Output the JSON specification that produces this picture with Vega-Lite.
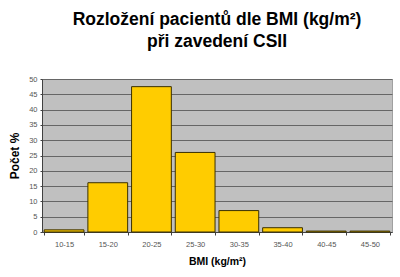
{
  "$schema": "https://vega.github.io/schema/vega-lite/v6.json",
  "autosize": "none",
  "width": 350,
  "height": 153,
  "padding": {"left": 42, "top": 79, "right": 8, "bottom": 45},
  "background": "white",
  "config": {
    "font": "Liberation Sans",
    "view": {"fill": "#C0C0C0", "stroke": "#A0A0A0", "strokeWidth": 1}
  },
  "title": {
    "text": ["Rozložení pacientů dle BMI (kg/m²)", "při zavedení CSII"],
    "font": "Liberation Sans",
    "fontSize": 17.5,
    "fontWeight": "bold",
    "color": "#000000",
    "lineHeight": 22,
    "anchor": "middle",
    "offset": 25
  },
  "data": {
    "values": [
      {"bmi": "10-15", "pct": 0.7},
      {"bmi": "15-20", "pct": 16.1},
      {"bmi": "20-25", "pct": 47.5},
      {"bmi": "25-30", "pct": 26.0},
      {"bmi": "30-35", "pct": 7.0},
      {"bmi": "35-40", "pct": 1.4},
      {"bmi": "40-45", "pct": 0.3},
      {"bmi": "45-50", "pct": 0.3}
    ]
  },
  "mark": {"type": "bar", "fill": "#FFCC00", "stroke": "#3A3000", "strokeWidth": 1},
  "encoding": {
    "x": {
      "field": "bmi",
      "type": "ordinal",
      "sort": null,
      "scale": {"paddingInner": 0.09, "paddingOuter": 0.05},
      "axis": {
        "title": "BMI (kg/m²)",
        "titleFont": "Liberation Sans",
        "titleFontSize": 10.5,
        "titleFontWeight": "bold",
        "titleColor": "#000000",
        "titlePadding": 9,
        "labelAngle": 0,
        "labelFontSize": 7.5,
        "labelColor": "#555555",
        "labelPadding": 5,
        "tickBand": "extent",
        "tickColor": "#404040",
        "tickSize": 3,
        "domainColor": "#404040",
        "grid": false
      }
    },
    "y": {
      "field": "pct",
      "type": "quantitative",
      "scale": {"domain": [0, 50], "nice": false},
      "axis": {
        "title": "Počet %",
        "titleFont": "Liberation Sans",
        "titleFontSize": 12,
        "titleFontWeight": "bold",
        "titleColor": "#000000",
        "titlePadding": 7,
        "values": [0, 5, 10, 15, 20, 25, 30, 35, 40, 45, 50],
        "labelFontSize": 7.5,
        "labelColor": "#555555",
        "labelPadding": 3,
        "tickSize": 2,
        "tickColor": "#404040",
        "domainColor": "#404040",
        "grid": true,
        "gridColor": "#666666",
        "gridWidth": 1
      }
    }
  }
}
